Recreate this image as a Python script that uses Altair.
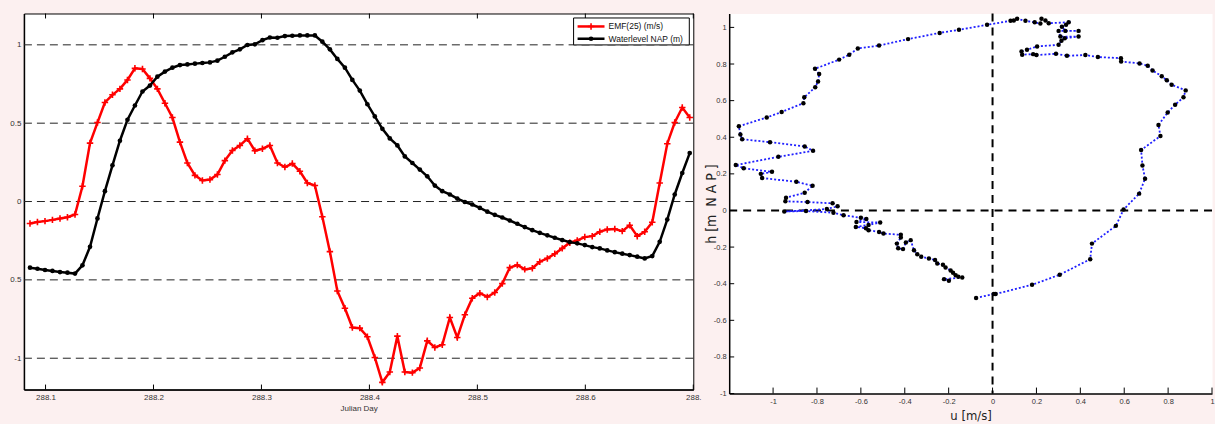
import altair as alt
import pandas as pd

# ---------------- data ----------------
julian_day = [
    288.0856, 288.0925, 288.0995, 288.1064, 288.1134, 288.1203, 288.1273, 288.1342, 288.1412, 288.1481,
    288.1550, 288.1620, 288.1689, 288.1759, 288.1828, 288.1898, 288.1967, 288.2036, 288.2106, 288.2175,
    288.2245, 288.2314, 288.2384, 288.2453, 288.2523, 288.2592, 288.2661, 288.2731, 288.2800, 288.2870,
    288.2939, 288.3009, 288.3078, 288.3148, 288.3217, 288.3286, 288.3356, 288.3425, 288.3495, 288.3564,
    288.3634, 288.3703, 288.3773, 288.3842, 288.3911, 288.3981, 288.4050, 288.4120, 288.4189, 288.4259,
    288.4328, 288.4398, 288.4467, 288.4536, 288.4606, 288.4675, 288.4745, 288.4814, 288.4884, 288.4953,
    288.5023, 288.5092, 288.5161, 288.5231, 288.5300, 288.5370, 288.5439, 288.5509, 288.5578, 288.5648,
    288.5717, 288.5786, 288.5856, 288.5925, 288.5995, 288.6064, 288.6134, 288.6203, 288.6273, 288.6342,
    288.6411, 288.6481, 288.6550, 288.6620, 288.6689, 288.6759, 288.6828, 288.6898, 288.6967,
]

emf_25 = [
    -0.140, -0.131, -0.125, -0.117, -0.108, -0.100, -0.083, 0.097, 0.373, 0.504,
    0.632, 0.681, 0.719, 0.776, 0.850, 0.846, 0.786, 0.719, 0.627, 0.536,
    0.379, 0.246, 0.167, 0.134, 0.140, 0.172, 0.261, 0.326, 0.358, 0.401,
    0.324, 0.337, 0.358, 0.246, 0.220, 0.242, 0.193, 0.118, 0.102, -0.097,
    -0.320, -0.571, -0.681, -0.804, -0.808, -0.863, -0.995, -1.154, -1.088, -0.859,
    -1.088, -1.092, -1.062, -0.889, -0.931, -0.914, -0.740, -0.868, -0.723, -0.617,
    -0.585, -0.609, -0.581, -0.524, -0.422, -0.405, -0.433, -0.426, -0.384, -0.363,
    -0.333, -0.299, -0.263, -0.248, -0.227, -0.221, -0.193, -0.178, -0.176, -0.189,
    -0.151, -0.221, -0.193, -0.132, 0.118, 0.369, 0.504, 0.600, 0.536,
]

waterlevel_nap = [
    -0.422, -0.429, -0.437, -0.443, -0.450, -0.454, -0.460, -0.407, -0.289, -0.108,
    0.066, 0.231, 0.388, 0.522, 0.613, 0.702, 0.740, 0.797, 0.829, 0.854,
    0.871, 0.875, 0.880, 0.884, 0.888, 0.899, 0.924, 0.952, 0.971, 0.999,
    1.003, 1.030, 1.047, 1.045, 1.056, 1.058, 1.060, 1.060, 1.060, 1.020,
    0.971, 0.910, 0.854, 0.776, 0.708, 0.621, 0.543, 0.464, 0.403, 0.358,
    0.288, 0.246, 0.204, 0.161, 0.102, 0.066, 0.045, 0.019, -0.003, -0.019,
    -0.041, -0.065, -0.085, -0.102, -0.121, -0.142, -0.163, -0.183, -0.200, -0.216,
    -0.231, -0.246, -0.259, -0.267, -0.278, -0.291, -0.299, -0.312, -0.323, -0.333,
    -0.342, -0.352, -0.363, -0.348, -0.257, -0.115, 0.045, 0.182, 0.309,
]

u_ms = [
    -0.075, 0.006, 0.014, 0.180, 0.306, 0.445, 0.453, 0.562, 0.597, 0.668,
    0.695, 0.683, 0.677, 0.765, 0.756, 0.798, 0.832, 0.870, 0.880, 0.816,
    0.794, 0.771, 0.729, 0.707, 0.670, 0.586, 0.585, 0.480, 0.423, 0.339,
    0.289, 0.200, 0.185, 0.135, 0.132, 0.157, 0.203, 0.301, 0.314, 0.329,
    0.392, 0.309, 0.301, 0.392, 0.332, 0.316, 0.335, 0.347, 0.256, 0.241,
    0.223, 0.218, 0.192, 0.150, 0.112, 0.097, 0.082, -0.025, -0.153, -0.241,
    -0.385, -0.517, -0.614, -0.653, -0.699, -0.809, -0.790, -0.795, -0.808, -0.858,
    -0.862, -0.961, -1.029, -1.156, -1.149, -1.141, -1.014, -0.856, -0.818, -0.976,
    -1.170, -1.134, -1.005, -1.056, -1.050, -0.894, -0.820, -0.856, -0.941, -0.944,
    -0.843, -0.729, -0.706, -0.755, -0.949, -0.850, -0.725, -0.679, -0.600, -0.575,
    -0.620, -0.512, -0.565, -0.623, -0.577, -0.565, -0.517, -0.497, -0.418, -0.418,
    -0.436, -0.430, -0.408, -0.395, -0.373, -0.358, -0.343, -0.325, -0.290, -0.262,
    -0.252, -0.226, -0.214, -0.191, -0.180, -0.168, -0.156, -0.138, -0.221, -0.199,
]

h_nap = [
    -0.478, -0.456, -0.456, -0.406, -0.351, -0.266, -0.181, -0.084, 0.005, 0.092,
    0.173, 0.246, 0.330, 0.407, 0.467, 0.535, 0.578, 0.618, 0.656, 0.687,
    0.711, 0.733, 0.765, 0.791, 0.803, 0.814, 0.832, 0.838, 0.849, 0.845,
    0.856, 0.849, 0.854, 0.851, 0.869, 0.878, 0.896, 0.905, 0.927, 0.941,
    0.950, 0.950, 0.981, 0.981, 0.981, 1.003, 1.014, 1.028, 1.023, 1.038,
    1.047, 1.021, 1.028, 1.036, 1.047, 1.038, 1.036, 1.014, 0.987, 0.970,
    0.936, 0.901, 0.885, 0.851, 0.824, 0.774, 0.745, 0.705, 0.673, 0.618,
    0.586, 0.538, 0.508, 0.460, 0.415, 0.389, 0.373, 0.350, 0.326, 0.293,
    0.248, 0.231, 0.211, 0.200, 0.177, 0.157, 0.135, 0.097, 0.070, 0.050,
    0.046, 0.039, 0.023, 0.008, -0.006, -0.003, -0.012, -0.026, -0.040, -0.047,
    -0.063, -0.066, -0.079, -0.090, -0.097, -0.108, -0.117, -0.126, -0.133, -0.148,
    -0.181, -0.206, -0.211, -0.175, -0.162, -0.217, -0.239, -0.253, -0.262, -0.271,
    -0.290, -0.297, -0.311, -0.328, -0.340, -0.354, -0.362, -0.366, -0.375, -0.384,
]

left_x_ticks = [288.1, 288.2, 288.3, 288.4, 288.5, 288.6, 288.7]
left_y_ticks = [-1, -0.5, 0, 0.5, 1]
right_x_ticks = [-1, -0.8, -0.6, -0.4, -0.2, 0, 0.2, 0.4, 0.6, 0.8, 1]
right_y_ticks = [-1, -0.8, -0.6, -0.4, -0.2, 0, 0.2, 0.4, 0.6, 0.8, 1]
series_names = ["EMF(25) (m/s)", "Waterlevel NAP (m)"]
series_colors = ["#ff0000", "#000000"]
x_title_left = "Julian Day"
x_title_right = "u [m/s]"
y_title_right = "h [m\u00a0 N A P ]"

# ---------------- styling ----------------
FONT = "Liberation Sans, Arial, Helvetica, sans-serif"
NARROW = "Liberation Sans Narrow, Arial Narrow, DejaVu Sans Condensed, sans-serif"
BG = "#fcf0f0"
LW, LH = 671, 377
RW, RH = 484, 381
MINUS_FIX = "replace(format(datum.value, '~g'), '\u2212', '-')"

n = len(julian_day)
ts = pd.DataFrame({
    "day": julian_day + julian_day,
    "value": emf_25 + waterlevel_nap,
    "series": [series_names[0]] * n + [series_names[1]] * n,
})
emf_df = ts[ts["series"] == series_names[0]]
wl_df = ts[ts["series"] == series_names[1]]

lx_scale = alt.Scale(domain=[288.08, 288.70], nice=False, zero=False)
ly_scale = alt.Scale(domain=[-1.2, 1.2], nice=False, zero=False)

lx_axis = alt.Axis(
    values=left_x_ticks, grid=False, tickSize=0, labelPadding=4,
    labelExpr="datum.value > 288.65 ? '288.' : format(datum.value, '.1f')",
    labelFont=FONT, labelFontSize=8, labelColor="#333333", labelFlush=False,
    domainColor="#000000", domainWidth=1.5,
    title=x_title_left, titleFont=FONT, titleFontSize=8, titleFontWeight="normal",
    titleColor="#333333", titlePadding=3,
)
ly_axis = alt.Axis(
    values=left_y_ticks, grid=False, tickSize=0, labelPadding=3,
    labelExpr="datum.value == -0.5 ? '0.5' : " + MINUS_FIX,
    labelFont=FONT, labelFontSize=8, labelColor="#333333",
    domainColor="#000000", domainWidth=1.5, title=None,
)
LX = alt.X("day:Q", scale=lx_scale, axis=lx_axis)
LY = alt.Y("value:Q", scale=ly_scale, axis=ly_axis)

grid = alt.Chart(pd.DataFrame({"value": left_y_ticks})).mark_rule(
    color="#222222", strokeWidth=1, strokeDash=[8, 5]
).encode(y=LY)

emf_line = alt.Chart(emf_df).mark_line(strokeWidth=2.5, color=series_colors[0]).encode(x=LX, y=LY)
PLUS = "M-1,0H1M0,-1V1"
emf_pts = alt.Chart(emf_df).mark_point(
    shape=PLUS, filled=False, size=42, strokeWidth=1.6, color=series_colors[0], opacity=1
).encode(x=LX, y=LY)
wl_line = alt.Chart(wl_df).mark_line(strokeWidth=2.5, color=series_colors[1]).encode(x=LX, y=LY)
wl_pts = alt.Chart(wl_df).mark_circle(size=22, color=series_colors[1], opacity=1).encode(x=LX, y=LY)

xt_df = pd.DataFrame({"day": left_x_ticks})
ticks_top = alt.Chart(xt_df).mark_rule(color="#000000", strokeWidth=1).encode(
    x=LX, y=alt.value(0), y2=alt.value(5))
ticks_bot = alt.Chart(xt_df).mark_rule(color="#000000", strokeWidth=1).encode(
    x=LX, y=alt.value(LH - 5), y2=alt.value(LH))

# legend box (upper right, inside the plot)
leg_df = pd.DataFrame({"label": series_names, "color": series_colors})
leg_box = alt.Chart(leg_df.head(1)).mark_rect(fill="white", stroke="#000000", strokeWidth=1).encode(
    x=alt.value(551), x2=alt.value(667), y=alt.value(4.5), y2=alt.value(31.5))
leg_layers = [leg_box]
for k, (lab, col) in enumerate(zip(series_names, series_colors)):
    yy = 13 + k * 12.3
    row = leg_df[leg_df["label"] == lab]
    leg_layers.append(alt.Chart(row).mark_rule(color=col, strokeWidth=2.5).encode(
        x=alt.value(555), x2=alt.value(582), y=alt.value(yy)))
    if k == 0:
        leg_layers.append(alt.Chart(row).mark_point(shape=PLUS, filled=False, size=42, strokeWidth=1.6,
                                                    color=col, opacity=1).encode(
            x=alt.value(568.5), y=alt.value(yy)))
    else:
        leg_layers.append(alt.Chart(row).mark_circle(size=22, color=col, opacity=1).encode(
            x=alt.value(568.5), y=alt.value(yy)))
    leg_layers.append(alt.Chart(row).mark_text(align="left", baseline="middle", font=FONT,
                                               fontSize=8.5, color="#111111").encode(
        x=alt.value(586), y=alt.value(yy), text="label:N"))

left = alt.layer(grid, emf_line, emf_pts, wl_line, wl_pts, ticks_top, ticks_bot, *leg_layers).properties(
    width=LW, height=LH, view=alt.ViewBackground(fill="white", stroke="#000000", strokeWidth=1))

# ---------------- right chart ----------------
path = pd.DataFrame({"u": u_ms, "h": h_nap, "step": list(range(len(u_ms)))})
rx_scale = alt.Scale(domain=[-1.2, 1.0], nice=False, zero=False)
ry_scale = alt.Scale(domain=[-1.0, 1.076], nice=False, zero=False)

rx_axis = alt.Axis(
    values=right_x_ticks, grid=False, tickSize=0, labelPadding=4, labelExpr=MINUS_FIX,
    labelFont=FONT, labelFontSize=7.5, labelColor="#333333", labelFlush=False,
    domainColor="#000000", domainWidth=1.5,
    title=x_title_right, titleFont=NARROW, titleFontSize=13, titleFontWeight="normal",
    titleColor="#222222", titlePadding=5,
)
ry_axis = alt.Axis(
    values=right_y_ticks, grid=False, tickSize=0, labelPadding=3, labelExpr=MINUS_FIX,
    labelFont=FONT, labelFontSize=7.5, labelColor="#333333", labelFlush=False,
    domainColor="#000000", domainWidth=1.5,
    title=y_title_right, titleFont=NARROW, titleFontSize=14, titleFontWeight="normal",
    titleColor="#222222", titlePadding=-5,
)
RX = alt.X("u:Q", scale=rx_scale, axis=rx_axis)
RY = alt.Y("h:Q", scale=ry_scale, axis=ry_axis)

zero_h = alt.Chart(pd.DataFrame({"h": [0]})).mark_rule(color="#000000", strokeWidth=2, strokeDash=[8, 6]).encode(y=RY)
zero_u = alt.Chart(pd.DataFrame({"u": [0]})).mark_rule(color="#000000", strokeWidth=2, strokeDash=[8, 6]).encode(x=RX)

r_line = alt.Chart(path).mark_line(color="#1f1fff", strokeWidth=1.8, strokeDash=[2, 2]).encode(
    x=RX, y=RY, order="step:Q")
r_pts = alt.Chart(path).mark_circle(size=20, color="#000000", opacity=1).encode(x=RX, y=RY)

rxt = alt.Chart(pd.DataFrame({"u": right_x_ticks})).mark_rule(color="#000000", strokeWidth=1).encode(
    x=RX, y=alt.value(RH - 6), y2=alt.value(RH))
ryt = alt.Chart(pd.DataFrame({"h": right_y_ticks})).mark_rule(color="#000000", strokeWidth=1).encode(
    y=RY, x=alt.value(0), x2=alt.value(5))

right = alt.layer(zero_h, zero_u, r_line, r_pts, rxt, ryt).properties(
    width=RW, height=RH, view=alt.ViewBackground(fill="white", strokeOpacity=0))

chart = alt.hconcat(left, right, spacing=36, bounds="flush").properties(
    background=BG, padding={"left": 9, "top": 12, "right": 0, "bottom": 0}
)

chart.save("out.html", embed_options={"renderer": "svg", "actions": False})
